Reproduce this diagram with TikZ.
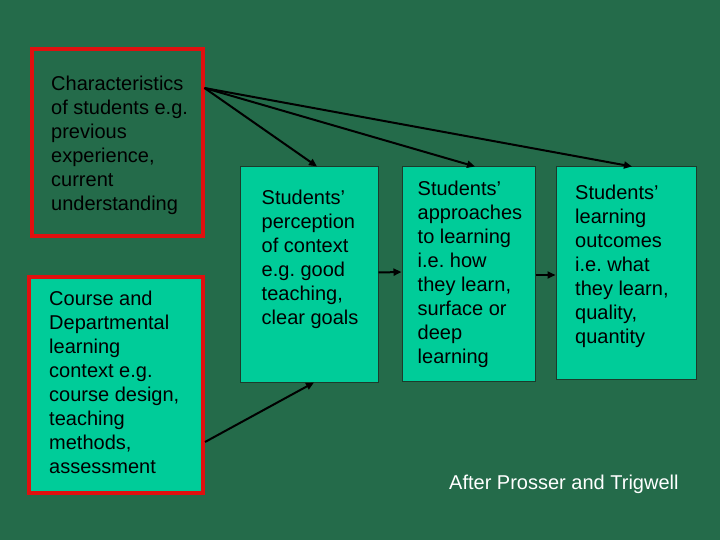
\documentclass[tikz,border=0pt]{standalone}
\usepackage{fontspec}
\setmainfont{Liberation Sans}
\usetikzlibrary{arrows.meta,calc}
\definecolor{bggreen}{HTML}{246B4A}
\definecolor{teal}{HTML}{00CC99}
\definecolor{redline}{HTML}{E0100F}
\definecolor{edge}{HTML}{1C3B2B}
\frenchspacing
\begin{document}
\begin{tikzpicture}[x=1pt,y=-1pt,
  redbox/.style={draw=redline,line width=4pt,inner sep=0pt,rectangle},
  tealbox/.style={draw=edge,line width=1pt,fill=teal,inner sep=0pt,rectangle},
  txt/.style={anchor=north west,align=left,inner sep=0pt,font=\fontsize{20}{24}\selectfont,text=black},
  conn/.style={line width=2pt,-{Triangle[length=8pt,width=7pt]}}]
\fill[bggreen] (0,0) rectangle (720,540);
\useasboundingbox (0,0) rectangle (720,540);
% boxes
\node[redbox,minimum width=171pt,minimum height=187pt] (b1) at (117,142.5) {};
\node[redbox,fill=teal,minimum width=174pt,minimum height=216pt] (b2) at (116,385) {};
\node[tealbox,minimum width=138pt,minimum height=215pt] (b3) at (309,274.5) {};
\node[tealbox,minimum width=133pt,minimum height=214pt] (b4) at (468.5,274) {};
\node[tealbox,minimum width=140pt,minimum height=212pt] (b5) at (626,273) {};
% texts
\node[txt] (t1) at (51,75.4) {Characteristics\\of students e.g.\\previous\\experience,\\current\\understanding};
\node[txt] (t2) at (49,291) {Course and\\Departmental\\learning\\context e.g.\\course design,\\teaching\\methods,\\assessment};
\node[txt] (t3) at (261.5,189.5) {Students’\\perception\\of context\\e.g. good\\teaching,\\clear goals};
\node[txt] (t4) at (417.5,180.5) {Students’\\approaches\\to learning\\i.e. how\\they learn,\\surface or\\deep\\learning};
\node[txt] (t5) at (575,184.5) {Students’\\learning\\outcomes\\i.e. what\\they learn,\\quality,\\quantity};
\node[anchor=base west,inner sep=0pt,font=\fontsize{20}{24}\selectfont,text=white] (src) at (449,489) {After Prosser and Trigwell};
% connectors
\coordinate (s1) at ($(b1.north east)+(0,41)$);
\coordinate (s2) at ($(b2.north east)+(0,167)$);
\draw[conn] (s1) -- ($(b3.north)+(8,0)$);
\draw[conn] (s1) -- ($(b4.north)+(6.5,0)$);
\draw[conn] (s1) -- ($(b5.north)+(6,0)$);
\draw[conn] (s2) -- ($(b3.south)+(5,0)$);
\draw[conn] ($(b3.east)+(0,-2)$) -- ($(b4.west)+(0,-2)$);
\draw[conn] ($(b4.east)+(0,1)$) -- ($(b5.west)+(0,2)$);
\end{tikzpicture}
\end{document}
